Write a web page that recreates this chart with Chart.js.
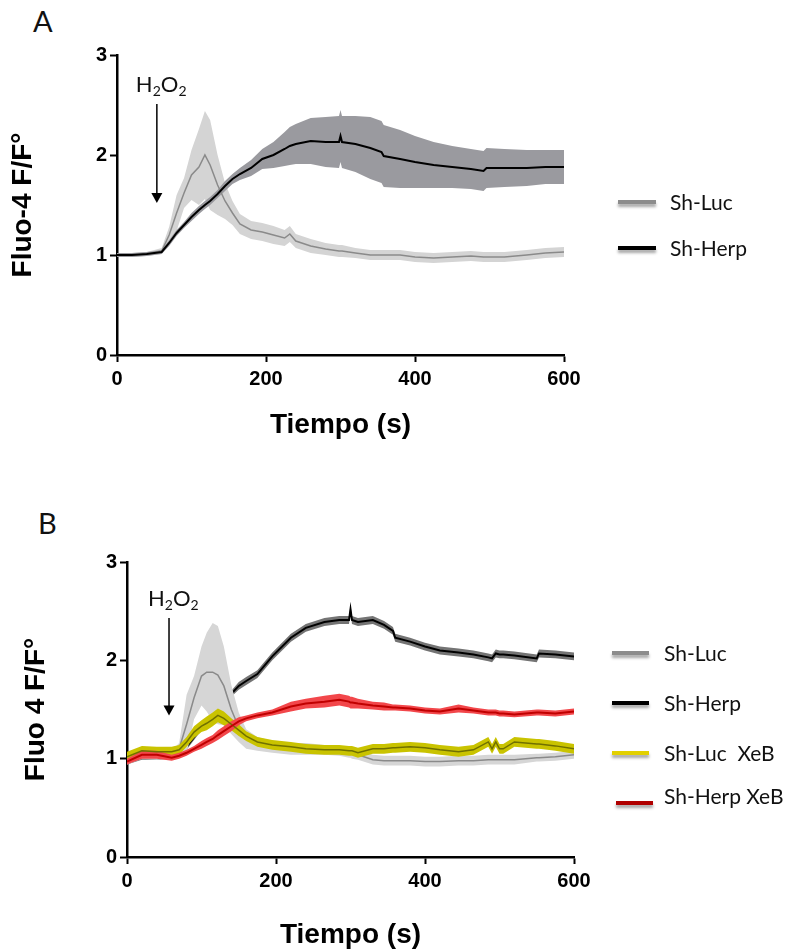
<!DOCTYPE html>
<html>
<head>
<meta charset="utf-8">
<script src="https://cdn.jsdelivr.net/npm/chart.js@4.4.1/dist/chart.umd.min.js"></script>
<style>
  body { margin: 0; background: #fff; }
  #wrap { position: relative; width: 786px; height: 952px; overflow: hidden; }
  canvas { position: absolute; left: 0; }
  .letter { position: absolute; font-family: Lato, sans-serif; font-size: 29px; color: #111; }
</style>
</head>
<body>
<div id="wrap">
  <div class="letter" style="left:33px; top:3px;">A</div>
  <canvas id="chartA" width="786" height="480" style="top:0"></canvas>
  <div class="letter" style="left:38px; top:505px;">B</div>
  <canvas id="chartB" width="786" height="472" style="top:480px"></canvas>
</div>
<script>
// panel A : time (s) and mean / sem of Fluo-4 F/F0
var timeA = [0, 20, 40, 60, 70, 80, 90, 100, 110, 118, 125, 135, 145, 155, 165, 180, 195, 210, 225, 232,
  240, 260, 280, 298, 300, 302, 320, 340, 355, 358, 380, 400, 425, 450, 475, 492, 496, 520, 550, 575, 600];
var lucA = [1.00, 1.00, 1.01, 1.04, 1.20, 1.42, 1.62, 1.80, 1.88, 2.00, 1.90, 1.70, 1.54, 1.42, 1.31, 1.25, 1.23, 1.20, 1.17, 1.21,
  1.14, 1.09, 1.06, 1.04, 1.04, 1.04, 1.02, 1.00, 1.00, 1.00, 1.00, 0.98, 0.97, 0.98, 0.99, 0.98, 0.98, 0.98, 1.00, 1.02, 1.03];
var lucA_sem = [0.02, 0.02, 0.02, 0.03, 0.08, 0.18, 0.15, 0.25, 0.38, 0.44, 0.45, 0.30, 0.18, 0.12, 0.10, 0.09, 0.09, 0.09, 0.08, 0.08,
  0.07, 0.07, 0.06, 0.06, 0.06, 0.06, 0.05, 0.05, 0.05, 0.05, 0.05, 0.05, 0.05, 0.05, 0.05, 0.05, 0.05, 0.05, 0.05, 0.05, 0.05];
var herpA = [1.00, 1.00, 1.01, 1.03, 1.12, 1.22, 1.30, 1.38, 1.45, 1.50, 1.54, 1.61, 1.69, 1.76, 1.81, 1.87, 1.96, 2.00, 2.06, 2.09,
  2.11, 2.14, 2.13, 2.13, 2.19, 2.13, 2.11, 2.07, 2.03, 1.99, 1.96, 1.93, 1.90, 1.88, 1.86, 1.84, 1.87, 1.87, 1.87, 1.88, 1.88];
var herpA_sem = [0.02, 0.02, 0.02, 0.02, 0.03, 0.03, 0.03, 0.04, 0.04, 0.04, 0.04, 0.04, 0.05, 0.05, 0.06, 0.08, 0.10, 0.13, 0.17, 0.19,
  0.20, 0.23, 0.25, 0.26, 0.26, 0.26, 0.28, 0.31, 0.31, 0.31, 0.29, 0.26, 0.23, 0.21, 0.20, 0.20, 0.20, 0.19, 0.18, 0.17, 0.17];

// panel B
var timeB = [0, 20, 40, 60, 70, 80, 90, 100, 107, 115, 122, 130, 140, 150, 160, 175, 195, 220, 240, 265, 285, 298,
  300, 302, 310, 330, 345, 357, 360, 380, 400, 420, 445, 465, 485, 490, 495, 500, 505, 520, 550, 553, 575, 600];
var lucB = [0.97, 1.03, 1.02, 1.05, 1.10, 1.35, 1.62, 1.84, 1.88, 1.88, 1.85, 1.74, 1.50, 1.32, 1.20, 1.15, 1.12, 1.10, 1.10, 1.09, 1.08, 1.06,
  1.06, 1.05, 1.04, 0.99, 0.98, 0.98, 0.98, 0.98, 0.97, 0.97, 0.98, 0.98, 0.99, 0.99, 0.99, 0.99, 0.99, 0.99, 1.01, 1.01, 1.02, 1.04];
var lucB_sem = [0.03, 0.03, 0.03, 0.03, 0.06, 0.30, 0.22, 0.30, 0.40, 0.50, 0.50, 0.40, 0.25, 0.15, 0.10, 0.07, 0.06, 0.06, 0.06, 0.05, 0.05, 0.05,
  0.05, 0.05, 0.05, 0.05, 0.05, 0.05, 0.05, 0.05, 0.05, 0.05, 0.05, 0.05, 0.05, 0.05, 0.05, 0.05, 0.05, 0.05, 0.04, 0.04, 0.04, 0.04];
var herpB = [0.97, 1.02, 1.02, 1.03, 1.06, 1.12, 1.22, 1.32, 1.38, 1.45, 1.52, 1.58, 1.66, 1.74, 1.79, 1.86, 2.04, 2.23, 2.33, 2.39, 2.41, 2.41,
  2.52, 2.41, 2.39, 2.41, 2.36, 2.30, 2.23, 2.19, 2.14, 2.10, 2.08, 2.06, 2.03, 2.02, 2.07, 2.06, 2.06, 2.05, 2.02, 2.07, 2.06, 2.04];
var herpB_sem = [0.03, 0.03, 0.03, 0.03, 0.03, 0.03, 0.03, 0.03, 0.03, 0.03, 0.03, 0.03, 0.03, 0.04, 0.04, 0.04, 0.04, 0.04, 0.04, 0.04, 0.04, 0.04,
  0.04, 0.04, 0.04, 0.04, 0.04, 0.04, 0.04, 0.04, 0.04, 0.04, 0.04, 0.04, 0.04, 0.04, 0.04, 0.04, 0.04, 0.04, 0.04, 0.04, 0.04, 0.04];
var lucXeB = [1.02, 1.08, 1.07, 1.07, 1.09, 1.17, 1.27, 1.33, 1.36, 1.40, 1.44, 1.41, 1.35, 1.29, 1.23, 1.17, 1.14, 1.12, 1.10, 1.09, 1.09, 1.08,
  1.08, 1.08, 1.06, 1.10, 1.10, 1.11, 1.11, 1.12, 1.11, 1.09, 1.07, 1.09, 1.17, 1.10, 1.17, 1.10, 1.10, 1.17, 1.15, 1.15, 1.13, 1.10];
var lucXeB_sem = [0.05, 0.05, 0.05, 0.05, 0.05, 0.05, 0.06, 0.06, 0.07, 0.07, 0.07, 0.07, 0.06, 0.06, 0.05, 0.05, 0.05, 0.05, 0.05, 0.05, 0.05, 0.05,
  0.05, 0.05, 0.05, 0.05, 0.05, 0.05, 0.05, 0.05, 0.05, 0.05, 0.05, 0.05, 0.05, 0.05, 0.05, 0.05, 0.05, 0.05, 0.05, 0.05, 0.05, 0.05];
var herpXeB = [0.97, 1.04, 1.04, 1.01, 1.03, 1.06, 1.10, 1.14, 1.17, 1.20, 1.24, 1.28, 1.33, 1.38, 1.41, 1.44, 1.47, 1.53, 1.56, 1.58, 1.60, 1.58,
  1.57, 1.57, 1.56, 1.54, 1.53, 1.52, 1.52, 1.51, 1.49, 1.48, 1.51, 1.49, 1.47, 1.47, 1.47, 1.46, 1.46, 1.45, 1.47, 1.47, 1.46, 1.48];
var herpXeB_sem = [0.03, 0.04, 0.04, 0.03, 0.03, 0.03, 0.03, 0.04, 0.04, 0.04, 0.05, 0.05, 0.05, 0.04, 0.03, 0.03, 0.03, 0.05, 0.05, 0.06, 0.06, 0.06,
  0.06, 0.06, 0.05, 0.04, 0.04, 0.03, 0.03, 0.03, 0.03, 0.03, 0.04, 0.03, 0.03, 0.03, 0.03, 0.03, 0.03, 0.03, 0.03, 0.03, 0.03, 0.03];

var xTicks = [0, 200, 400, 600];
var yTicks = [0, 1, 2, 3];

var AXIS_FONT = "'Liberation Sans', Arial, sans-serif";

function pts(t, v) {
  return t.map(function (x, i) { return { x: x, y: v[i] }; });
}
function shifted(t, m, s, sign) {
  return t.map(function (x, i) { return { x: x, y: m[i] + sign * s[i] }; });
}

// one series = band (upper + lower) and mean line
function series(t, m, s, bandColor, lineColor, lw) {
  return {
    upper: { data: shifted(t, m, s, 1), fill: '+1', backgroundColor: bandColor, borderColor: 'transparent', borderWidth: 0, pointRadius: 0 },
    lower: { data: shifted(t, m, s, -1), fill: false, borderColor: 'transparent', borderWidth: 0, pointRadius: 0 },
    line: { data: pts(t, m), fill: false, borderColor: lineColor, borderWidth: lw, pointRadius: 0 }
  };
}

// datasets listed bottom -> top
function stack(layers) {
  var n = layers.length;
  return layers.map(function (d, i) { d.order = n - i; return d; });
}

var stimPlugin = {
  id: 'stim',
  afterDatasetsDraw: function (chart, args, o) {
    var ctx = chart.ctx, x = chart.scales.x, y = chart.scales.y;
    var px = x.getPixelForValue(o.t);
    var top = y.getPixelForValue(o.from);
    var tip = y.getPixelForValue(o.to);
    ctx.save();
    ctx.strokeStyle = '#000';
    ctx.fillStyle = '#000';
    ctx.lineWidth = 1.5;
    ctx.beginPath();
    ctx.moveTo(px, top);
    ctx.lineTo(px, tip - 9);
    ctx.stroke();
    ctx.beginPath();
    ctx.moveTo(px - 5.5, tip - 10);
    ctx.lineTo(px + 5.5, tip - 10);
    ctx.lineTo(px, tip);
    ctx.closePath();
    ctx.fill();
    // H2O2 label
    var cx = px - 21, base = top - 12;
    ctx.fillStyle = '#111';
    ctx.textBaseline = 'alphabetic';
    ctx.textAlign = 'left';
    var parts = [['H', 22, 0], ['2', 14, 4], ['O', 22, 0], ['2', 14, 4]];
    parts.forEach(function (p) {
      ctx.font = p[1] + 'px Lato, sans-serif';
      ctx.fillText(p[0], cx, base + p[2]);
      cx += ctx.measureText(p[0]).width;
    });
    ctx.restore();
  }
};

var legendPlugin = {
  id: 'sideLegend',
  afterDraw: function (chart, args, o) {
    var ctx = chart.ctx;
    ctx.save();
    o.items.forEach(function (it) {
      ctx.save();
      ctx.shadowColor = 'rgba(0,0,0,0.35)';
      ctx.shadowBlur = 3;
      ctx.shadowOffsetY = 3;
      ctx.strokeStyle = it.color;
      ctx.lineWidth = 4;
      ctx.beginPath();
      ctx.moveTo(it.x0, it.y);
      ctx.lineTo(it.x1, it.y);
      ctx.stroke();
      ctx.restore();
      ctx.fillStyle = '#111';
      ctx.font = '21px Lato, sans-serif';
      ctx.textBaseline = 'middle';
      ctx.fillText(it.label, it.tx, it.ty);
    });
    ctx.restore();
  }
};

function axes(yTitle, yWidth, yTitlePad, xHeight, xTitlePad) {
  return {
    x: {
      type: 'linear', min: 0, max: 600,
      afterBuildTicks: function (s) { s.ticks = xTicks.map(function (v) { return { value: v }; }); },
      afterFit: function (s) { s.height = xHeight; },
      grid: { drawOnChartArea: false, drawTicks: true, tickLength: 7, tickWidth: 2, color: '#000' },
      border: { display: true, width: 2.5, color: '#000' },
      ticks: { color: '#000', padding: 5, maxRotation: 0, font: { family: AXIS_FONT, size: 20, weight: 'bold' } },
      title: { display: true, text: 'Tiempo (s)', color: '#000', padding: { top: 0, bottom: xTitlePad },
        font: { family: AXIS_FONT, size: 28, weight: 'bold' } }
    },
    y: {
      min: 0, max: 3,
      afterBuildTicks: function (s) { s.ticks = yTicks.map(function (v) { return { value: v }; }); },
      afterFit: function (s) { s.width = yWidth; },
      grid: { drawOnChartArea: false, drawTicks: true, tickLength: 7, tickWidth: 2, color: '#000' },
      border: { display: true, width: 2.5, color: '#000' },
      ticks: { color: '#000', padding: 3, font: { family: AXIS_FONT, size: 20, weight: 'bold' } },
      title: { display: true, text: yTitle, color: '#000', padding: { top: yTitlePad, bottom: 0 },
        font: { family: AXIS_FONT, size: 28, weight: 'bold' } }
    }
  };
}

function baseOptions(pad, sc, stim, legendItems) {
  return {
    responsive: false,
    animation: false,
    events: [],
    layout: { padding: pad },
    scales: sc,
    plugins: {
      legend: { display: false },
      tooltip: { enabled: false },
      stim: stim,
      sideLegend: { items: legendItems }
    }
  };
}

// ---- Panel A
var sLucA = series(timeA, lucA, lucA_sem, '#d4d4d4', '#8a8a8a', 1.5);
var sHerpA = series(timeA, herpA, herpA_sem, '#9a9a9f', '#000000', 2);

new Chart(document.getElementById('chartA'), {
  type: 'line',
  data: { datasets: stack([sLucA.upper, sLucA.lower, sHerpA.upper, sHerpA.lower, sLucA.line, sHerpA.line]) },
  options: baseOptions({ left: 0, top: 55, right: 222, bottom: 0 },
    axes('Fluo-4 F/F°', 117, 6, 125, 38),
    { t: 53.5, from: 2.51, to: 1.52 },
    [
      { label: 'Sh-Luc', color: '#8c8c8c', x0: 618, x1: 656, y: 202, tx: 670, ty: 203 },
      { label: 'Sh-Herp', color: '#000000', x0: 618, x1: 656, y: 248, tx: 670, ty: 249 }
    ]),
  plugins: [stimPlugin, legendPlugin]
});

// ---- Panel B
var sLucB = series(timeB, lucB, lucB_sem, '#d6d6d6', '#8a8a8a', 1.5);
var sHerpB = series(timeB, herpB, herpB_sem, '#747474', '#000000', 2);
var sLucX = series(timeB, lucXeB, lucXeB_sem, '#c9c300', '#707000', 1.5);
var sHerpX = series(timeB, herpXeB, herpXeB_sem, '#f2474b', '#c00000', 2);

new Chart(document.getElementById('chartB'), {
  type: 'line',
  data: { datasets: stack([sHerpB.upper, sHerpB.lower, sHerpB.line,
    sLucB.upper, sLucB.lower, sLucB.line,
    sLucX.upper, sLucX.lower, sHerpX.upper, sHerpX.lower,
    sLucX.line, sHerpX.line]) },
  options: baseOptions({ left: 0, top: 82, right: 212, bottom: 0 },
    axes('Fluo 4 F/F°', 127, 19, 95, 0),
    { t: 56.4, from: 2.43, to: 1.44 },
    [
      { label: 'Sh-Luc', color: '#8c8c8c', x0: 612, x1: 649, y: 173, tx: 664, ty: 174 },
      { label: 'Sh-Herp', color: '#000000', x0: 612, x1: 649, y: 223, tx: 664, ty: 224 },
      { label: 'Sh-Luc  XeB', color: '#e2d000', x0: 612, x1: 649, y: 273, tx: 664, ty: 274 },
      { label: 'Sh-Herp XeB', color: '#b00000', x0: 616, x1: 653, y: 323, tx: 664, ty: 317 }
    ]),
  plugins: [stimPlugin, legendPlugin]
});
</script>
</body>
</html>
